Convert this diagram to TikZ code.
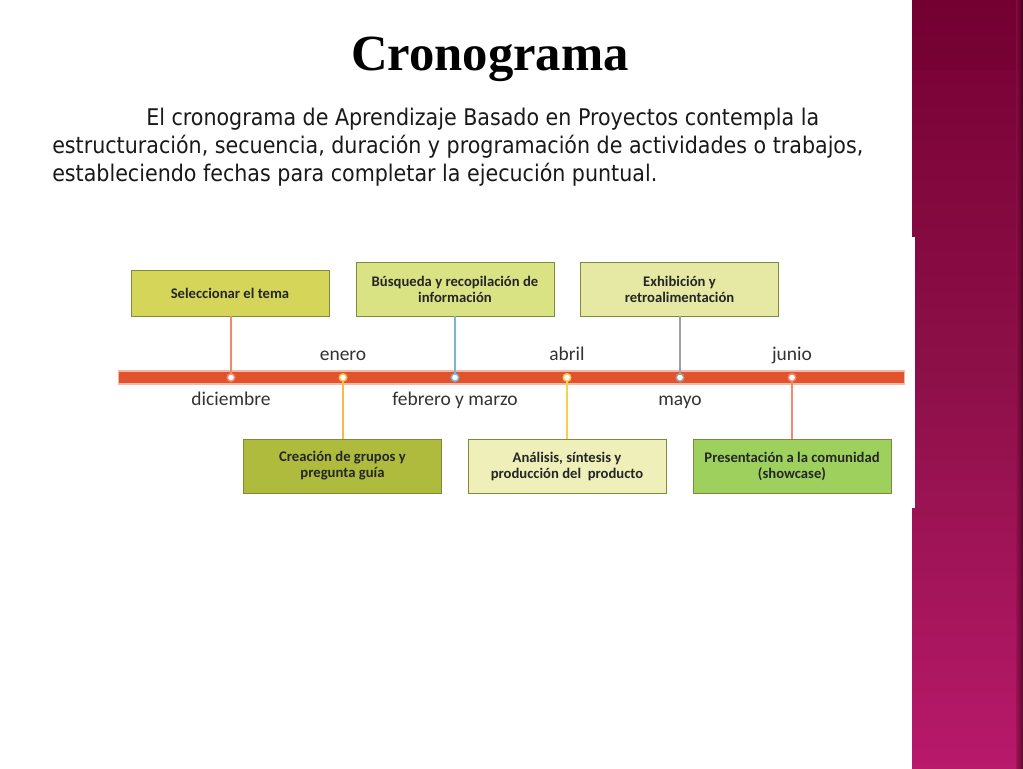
\documentclass[tikz,border=0pt]{standalone}
\usepackage{fontspec}
\newfontfamily\calfont{Carlito}
\newfontfamily\timesfont{Liberation Serif}
\newfontfamily\condfont{DejaVu Sans Condensed}
\usetikzlibrary{positioning}
\definecolor{barred}{HTML}{E0532C}
\definecolor{barrim}{HTML}{F4B8A6}
\definecolor{cSel}{HTML}{D5D55A}
\definecolor{cBus}{HTML}{D9E383}
\definecolor{cExh}{HTML}{E6E9A3}
\definecolor{cCre}{HTML}{AEBB3C}
\definecolor{cAna}{HTML}{EFEFBA}
\definecolor{cPre}{HTML}{9DD05C}
\definecolor{boxline}{HTML}{7F8A3A}
\definecolor{lSalmon}{HTML}{EE8A70}
\definecolor{lOrange}{HTML}{F7B94A}
\definecolor{lBlue}{HTML}{7EB2D6}
\definecolor{lYellow}{HTML}{F5CF4E}
\definecolor{lGray}{HTML}{A0A0A0}
\definecolor{magTop}{HTML}{770033}
\definecolor{magMid}{HTML}{8E1049}
\definecolor{magBot}{HTML}{B8196A}
\tikzset{
  box/.style={draw=boxline, line width=0.7pt, minimum width=198*0.75pt, align=center,
    inner sep=0pt, font=\calfont\bfseries\fontsize{11}{12}\selectfont, text=black!85},
  month/.style={font=\calfont\fontsize{14.6}{16}\selectfont, text=black!80, anchor=base, inner sep=0pt},
  para/.style={font=\condfont\fontsize{17.2}{20}\selectfont, text=black!90, anchor=base west, inner sep=0pt},
  conn/.style={line width=1pt},
  dot/.style={circle, fill=white, line width=1.1pt, minimum size=7.5*0.75pt, inner sep=0pt},
}
\begin{document}
\begin{tikzpicture}[x=0.75pt, y=-0.75pt]
\useasboundingbox (0,0) rectangle (1023,768);
\fill[white] (0,0) rectangle (1023,768);
% right magenta band
\shade[top color=magTop, bottom color=magBot, middle color=magMid] (912,0) rectangle (1023,768);
\fill[magTop!95!black, opacity=0.35] (912,0) rectangle (1023,70);
\fill[white] (912,237) rectangle (915,508);
\shade[left color=magMid, right color=black!70!magTop, opacity=0.6] (1016,0) rectangle (1023,768);
% title
\node[font=\timesfont\bfseries\fontsize{38}{40}\selectfont, anchor=base, inner sep=0pt] (title) at (490,70) {Cronograma};
% paragraph
\node[para] (p1) at (146,125) {El cronograma de Aprendizaje Basado en Proyectos contempla la};
\node[para] (p2) at (52,153) {estructuración, secuencia, duración y programación de actividades o trabajos,};
\node[para] (p3) at (52,181) {estableciendo fechas para completar la ejecución puntual.};
% timeline bar
\node[draw=barrim, fill=barred, line width=1.4pt, minimum width=786*0.75pt, minimum height=13*0.75pt, inner sep=0pt] (bar) at (511.5,377.5) {};
% boxes
\node[box, fill=cSel, minimum height=46*0.75pt] (sel) at (230,293) {Seleccionar el tema};
\node[box, fill=cBus, minimum height=54*0.75pt] (bus) at (455,289) {Búsqueda y recopilación de\\información};
\node[box, fill=cExh, minimum height=54*0.75pt] (exh) at (679.5,289) {Exhibición y\\retroalimentación};
\node[box, fill=cCre, minimum height=54*0.75pt] (cre) at (342.5,466) {Creación de grupos y\\pregunta guía};
\node[box, fill=cAna, minimum height=54*0.75pt] (ana) at (567,466) {Análisis, síntesis y\\producción del \ producto};
\node[box, fill=cPre, minimum height=54*0.75pt] (pre) at (792,466) {Presentación a la comunidad\\(showcase)};
% dots
\coordinate (d1) at (231,377.5);
\coordinate (d2) at (343,377.5);
\coordinate (d3) at (455,377.5);
\coordinate (d4) at (567,377.5);
\coordinate (d5) at (680,377.5);
\coordinate (d6) at (792,377.5);
% connectors
\draw[conn, lSalmon] (sel.south -| d1) -- (d1);
\draw[conn, lOrange] (d2) -- (cre.north -| d2);
\draw[conn, lBlue] (bus.south -| d3) -- (d3);
\draw[conn, lYellow] (d4) -- (ana.north -| d4);
\draw[conn, lGray] (exh.south -| d5) -- (d5);
\draw[conn, lSalmon] (d6) -- (pre.north -| d6);
\node[dot, draw=lSalmon] (n1) at (d1) {};
\node[dot, draw=lOrange] (n2) at (d2) {};
\node[dot, draw=lBlue] (n3) at (d3) {};
\node[dot, draw=lYellow] (n4) at (d4) {};
\node[dot, draw=lGray] (n5) at (d5) {};
\node[dot, draw=lSalmon] (n6) at (d6) {};
% month labels
\node[month] (m1) at (343,360) {enero};
\node[month] (m2) at (567,360) {abril};
\node[month] (m3) at (792,360) {junio};
\node[month] (m4) at (231,405) {diciembre};
\node[month] (m5) at (455,405) {febrero y marzo};
\node[month] (m6) at (680,405) {mayo};
\end{tikzpicture}
\end{document}
